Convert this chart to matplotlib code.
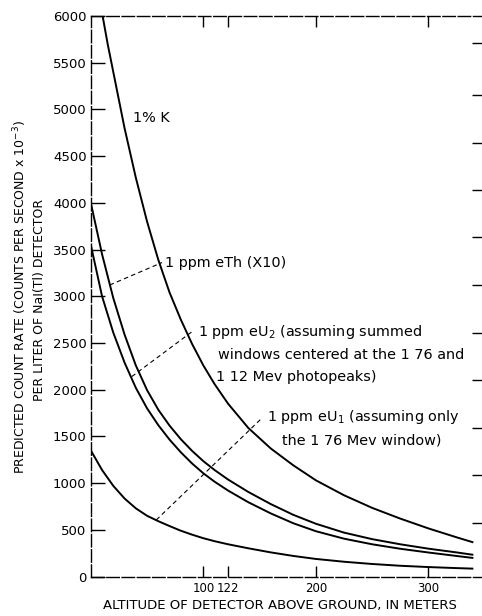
import matplotlib
matplotlib.use("Agg")
import matplotlib.pyplot as plt

# ---------------- data ----------------
altitude = [0, 10, 20, 30, 40, 50, 60, 70, 80, 90, 100, 110, 122, 140, 160,
            180, 200, 225, 250, 275, 300, 325, 340]
eTh_x10 = [4000, 3450, 2980, 2590, 2260, 1995, 1785, 1615, 1470, 1345, 1235,
           1140, 1038, 905, 775, 660, 565, 470, 400, 345, 298, 258, 232]
eU2 = [3550, 3000, 2610, 2290, 2020, 1800, 1620, 1465, 1330, 1210, 1105,
       1015, 920, 795, 675, 570, 485, 405, 345, 297, 257, 220, 198]
eU1 = [1350, 1140, 970, 835, 730, 650, 592, 540, 490, 448, 410, 378, 345,
       302, 258, 220, 188, 158, 134, 115, 101, 90, 84]

altitude_k = [10.5, 15, 20, 25, 30, 40, 50, 60, 70, 80, 90, 100, 110, 122,
              140, 160, 180, 200, 225, 250, 275, 300, 325, 340]
potassium = [6000, 5700, 5400, 5100, 4800, 4270, 3800, 3390, 3040, 2750, 2490,
             2260, 2060, 1850, 1590, 1370, 1190, 1030, 870, 735, 620, 515,
             420, 365]

y_ticks = list(range(0, 6001, 500))
x_ticks = [100, 122, 200, 300]
x_tick_labels = ["100", "122", "200", "300"]
right_ticks = [575, 1090, 1590, 2105, 2610, 3120, 3635, 4140, 4640, 5155, 5710]

# pointer lines (altitude, count) start/end
ptr_eTh = ([16.8, 63.3], [3120, 3361])
ptr_eU2 = ([36.4, 90.8], [2140, 2628])
ptr_eU1 = ([58.2, 152.2], [605, 1697])

# ---------------- figure ----------------
fig = plt.figure(figsize=(4.82, 6.16), dpi=100)
ax = fig.add_axes([90.8 / 482, 39.5 / 616, 1 - 90.8 / 482, (576.5 - 16) / 616])

lw = 1.4
for xs, ys in [(altitude, eTh_x10), (altitude, eU2), (altitude, eU1),
               (altitude_k, potassium)]:
    ax.plot(xs, ys, color="black", lw=lw, solid_capstyle="butt",
            solid_joinstyle="round")

for xs, ys in [ptr_eTh, ptr_eU2, ptr_eU1]:
    ax.plot(xs, ys, color="black", lw=0.8, linestyle=(0, (4, 3)))

ax.set_xlim(0, 347.7)
ax.set_ylim(0, 6000)

ax.set_yticks(y_ticks)
ax.set_xticks(x_ticks)
ax.set_xticklabels(x_tick_labels)
ax.tick_params(axis="y", direction="in", length=10, width=1.0, pad=3,
               labelsize=9.5, right=False)
ax.tick_params(axis="x", direction="in", length=8, width=1.0, pad=4,
               labelsize=8.5, top=True)

for s in ["left", "bottom", "top"]:
    ax.spines[s].set_linestyle((0, (9, 2)))
    ax.spines[s].set_linewidth(1.0)
ax.spines["right"].set_visible(False)

ax2 = ax.twinx()
ax2.set_ylim(0, 6000)
ax2.set_yticks(right_ticks)
ax2.set_yticklabels([])
ax2.tick_params(axis="y", direction="in", length=7, width=1.0)
for s in ax2.spines.values():
    s.set_visible(False)

# annotations
fs = 10.4
ax.text(37.6, 4905, "1% K", fontsize=fs, ha="left", va="center")
ax.text(66, 3353, "1 ppm eTh (X10)", fontsize=fs, ha="left", va="center")
ax.text(95.3, 2621, "1 ppm eU$_2$ (assuming summed", fontsize=fs,
        ha="left", va="center")
ax.text(113.3, 2371, "windows centered at the 1 76 and", fontsize=fs,
        ha="left", va="center")
ax.text(111.3, 2139, "1 12 Mev photopeaks)", fontsize=fs, ha="left",
        va="center")
ax.text(156.4, 1711, "1 ppm eU$_1$ (assuming only", fontsize=fs, ha="left",
        va="center")
ax.text(169.7, 1461, "the 1 76 Mev window)", fontsize=fs, ha="left",
        va="center")

# axis titles
fig.text(280 / 482, 1 - 605 / 616, "ALTITUDE OF DETECTOR ABOVE GROUND, IN METERS",
         fontsize=9.5, ha="center", va="center")
fig.text(20 / 482, 1 - 297 / 616,
         "PREDICTED COUNT RATE (COUNTS PER SECOND x 10$^{-3}$)",
         fontsize=9, ha="center", va="center", rotation=90)
fig.text(40 / 482, 1 - 300 / 616, "PER LITER OF NaI(Tl) DETECTOR",
         fontsize=9, ha="center", va="center", rotation=90)

fig.savefig("out.png", dpi=100)
